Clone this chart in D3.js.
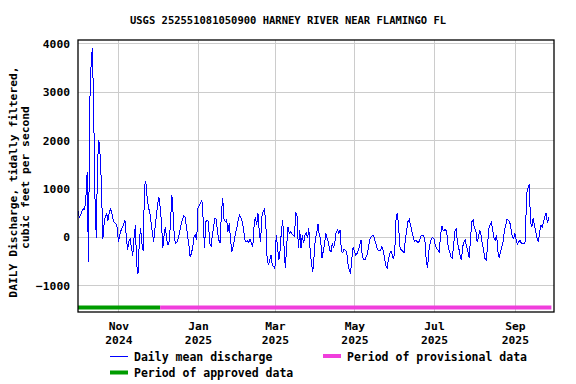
<!DOCTYPE html>
<html>
<head>
<meta charset="utf-8">
<script src="https://cdn.jsdelivr.net/npm/d3@7"></script>
<style>
body { margin: 0; background: #fff; }
text { font-family: "DejaVu Sans Mono", monospace; font-weight: bold; fill: #000; }
</style>
</head>
<body>
<div id="chart"></div>
<script>
// daily mean discharge, one array per month (water year 2025)
var oct24 = [527, 404, 450, 520, 575, 560, 767, 1329, -520, 2733, 3520, 3911, 2680, 815, -20, 1548, 1993, 1671, 1055, -55, 267, 438, 473, 336, 507, 575, 473, 336, 288, 280, 199];
var nov24 = [-110, 27, 130, 200, 247, 349, 27, -267, -100, -55, -233, -397, -7, 233, -589, -760, -110, 178, -144, -301, 1055, 1144, 815, 610, 507, 301, 96, -110, 164, 404];
var dec24 = [644, 828, 621, 310, -241, 34, 207, -69, -172, -100, 345, 862, 448, -69, -138, -103, -34, 103, 241, 345, 428, 414, 241, 34, -172, -414, -345, -207, 0, 34, -69];
var jan25 = [586, 655, 690, 759, 345, -241, 310, 345, 310, -138, -200, 34, 207, 380, 360, 103, -69, -138, 517, 793, 345, 310, 345, 103, 276, -69, -310, -207, -50, 103, 207];
var feb25 = [380, 448, 380, 310, 138, -69, -103, -85, -124, -50, -138, -207, 207, 414, 241, 483, 100, -103, 414, 517, 566, 276, -448, -587, -483, -380, -590, -621];
var mar25 = [-655, 34, -207, -483, -276, 138, 345, -200, -655, -200, 207, 60, 100, 60, 34, 15, 504, 414, -241, 138, -241, 34, -138, 34, 69, -34, 172, -276, -552, -724, -414];
var apr25 = [-34, 69, 262, 34, -34, -448, -310, -172, 69, -34, -103, -276, -310, -138, -241, -103, 103, 138, 69, 138, -310, -331, -262, -276, -310, -552, -690, -759, -448, -207];
var may25 = [-310, -380, -345, -276, -172, -69, -414, -462, -483, -414, -345, -172, -34, 0, 34, -14, -103, -207, -276, -276, -290, -207, -276, -448, -587, -655, -483, -345, -290, -380, -469];
var jun25 = [-241, 448, 483, 138, -241, -276, -300, -331, -69, 138, 310, 359, 241, 103, 14, -103, -69, -103, -124, -69, 14, 34, 34, -69, -483, -655, -310, -138, -34, -14];
var jul25 = [-50, -172, -241, -276, -310, 34, 221, 138, 138, 152, 34, -241, -310, -414, -448, -172, 103, 172, -138, -241, -380, -483, -207, -103, -69, -207, -310, -448, -34, 310, 345];
var aug25 = [172, 138, -103, -34, 138, 34, -138, -276, -448, -483, -207, 172, 241, 290, 138, -34, -69, 34, -310, -428, -310, -207, -103, 138, 241, 359, 345, 310, 172, 0, -34];
var sep25 = [69, -69, -152, -103, -69, -138, -138, -138, -100, 900, 1000, 1090, 300, 207, 380, 241, 103, -34, -103, 100, 241, 207, 300, 428, 497, 276, 400];

var months = [oct24, nov24, dec24, jan25, feb25, mar25, apr25, may25, jun25, jul25, aug25, sep25];
var firstDay = "2024-10-01";

// approval periods
var periodNames = ["Period of approved data", "Period of provisional data"];
var periodStart = ["2024-10-01", "2024-12-03"];
var periodEnd = ["2024-12-03", "2025-09-29"];
var periodColors = ["#009c00", "#f03edc"];

var yTicks = [-1000, 0, 1000, 2000, 3000, 4000];
var xTickDates = ["2024-11-01", "2025-01-01", "2025-03-01", "2025-05-01", "2025-07-01", "2025-09-01"];

var title = "USGS 252551081050900 HARNEY RIVER NEAR FLAMINGO FL";
var yLabel = ["DAILY Discharge, tidally filtered,", "cubic feet per second"];

//build daily series
var parse = d3.utcParse("%Y-%m-%d");
var data = [];
var start = parse(firstDay);
months.forEach(function(m){
  m.forEach(function(v){
    data.push({date: d3.utcDay.offset(start, data.length), value: v});
  });
});

var width = 576, height = 384;
var plot = {left: 78, right: 554, top: 40, bottom: 312};

var svg = d3.select("#chart").append("svg")
    .attr("width", width)
    .attr("height", height);

var x = d3.scaleUtc()
    .domain([parse("2024-10-01"), parse("2025-10-01")])
    .range([plot.left, plot.right]);
var y = d3.scaleLinear()
    .domain([-1557, 4068])
    .range([plot.bottom, plot.top]);

//gridlines
svg.append("g").selectAll("line").data(yTicks).join("line")
    .attr("x1", plot.left).attr("x2", plot.right)
    .attr("y1", function(d){ return Math.round(y(d)) + 0.5; })
    .attr("y2", function(d){ return Math.round(y(d)) + 0.5; })
    .attr("stroke", "#cccccc").attr("stroke-width", 1);
svg.append("g").selectAll("line").data(xTickDates).join("line")
    .attr("x1", function(d){ return Math.round(x(parse(d))) + 0.5; })
    .attr("x2", function(d){ return Math.round(x(parse(d))) + 0.5; })
    .attr("y1", plot.top).attr("y2", plot.bottom)
    .attr("stroke", "#cccccc").attr("stroke-width", 1);

//discharge line
var line = d3.line()
    .x(function(d){ return x(d.date); })
    .y(function(d){ return y(d.value); });
svg.append("path")
    .datum(data)
    .attr("d", line)
    .attr("fill", "none")
    .attr("stroke", "#0000ff")
    .attr("stroke-width", 1)
    .attr("shape-rendering", "crispEdges");

//period bars
svg.append("g").selectAll("rect").data(periodNames).join("rect")
    .attr("x", function(d, i){ return x(parse(periodStart[i])); })
    .attr("width", function(d, i){ return x(parse(periodEnd[i])) - x(parse(periodStart[i])); })
    .attr("y", 305.5)
    .attr("height", 4)
    .attr("fill", function(d, i){ return periodColors[i]; });

//frame
svg.append("rect")
    .attr("x", plot.left).attr("y", plot.top)
    .attr("width", plot.right - plot.left)
    .attr("height", plot.bottom - plot.top)
    .attr("fill", "none").attr("stroke", "#000").attr("stroke-width", 1.3);

//axes labels
var yAxis = d3.axisLeft(y).tickValues(yTicks).tickSize(0).tickPadding(8).tickFormat(d3.format("d"));
var gy = svg.append("g").attr("transform", "translate(" + plot.left + ",0)").call(yAxis);
gy.select(".domain").remove();
gy.selectAll("text").style("font-size", "11.3px").attr("x", -8).attr("dy", "0.36em");

var xAxis = d3.axisBottom(x).tickValues(xTickDates.map(parse)).tickSize(0).tickFormat("");
var gx = svg.append("g").attr("transform", "translate(0," + plot.bottom + ")").call(xAxis);
gx.select(".domain").remove();
gx.selectAll(".tick").each(function(d){
  var t = d3.select(this).append("text").attr("text-anchor", "middle").style("font-size", "11.3px");
  t.append("tspan").attr("x", 0).attr("y", 18).text(d3.utcFormat("%b")(d));
  t.append("tspan").attr("x", 0).attr("y", 31.5).text(d3.utcFormat("%Y")(d));
});

svg.append("text")
    .attr("x", 288).attr("y", 24)
    .attr("text-anchor", "middle")
    .style("font-size", "10.5px")
    .text(title);

svg.append("text")
    .attr("transform", "translate(16.8,182) rotate(-90)")
    .attr("text-anchor", "middle")
    .style("font-size", "11.3px")
    .text(yLabel[0]);
svg.append("text")
    .attr("transform", "translate(29.3,177.5) rotate(-90)")
    .attr("text-anchor", "middle")
    .style("font-size", "11.3px")
    .text(yLabel[1]);

//legend
var legend = svg.append("g");
legend.append("line")
    .attr("x1", 110).attr("x2", 128).attr("y1", 356.5).attr("y2", 356.5)
    .attr("stroke", "#0000ff").attr("stroke-width", 1);
legend.append("text").attr("x", 134).attr("y", 361).style("font-size", "11.5px").text("Daily mean discharge");

legend.append("rect").attr("x", 323).attr("y", 354).attr("width", 18).attr("height", 4).attr("fill", periodColors[1]);
legend.append("text").attr("x", 347).attr("y", 361).style("font-size", "11.5px").text(periodNames[1]);

legend.append("rect").attr("x", 110).attr("y", 370.5).attr("width", 18).attr("height", 4).attr("fill", periodColors[0]);
legend.append("text").attr("x", 134).attr("y", 377).style("font-size", "11.5px").text(periodNames[0]);
</script>
</body>
</html>
